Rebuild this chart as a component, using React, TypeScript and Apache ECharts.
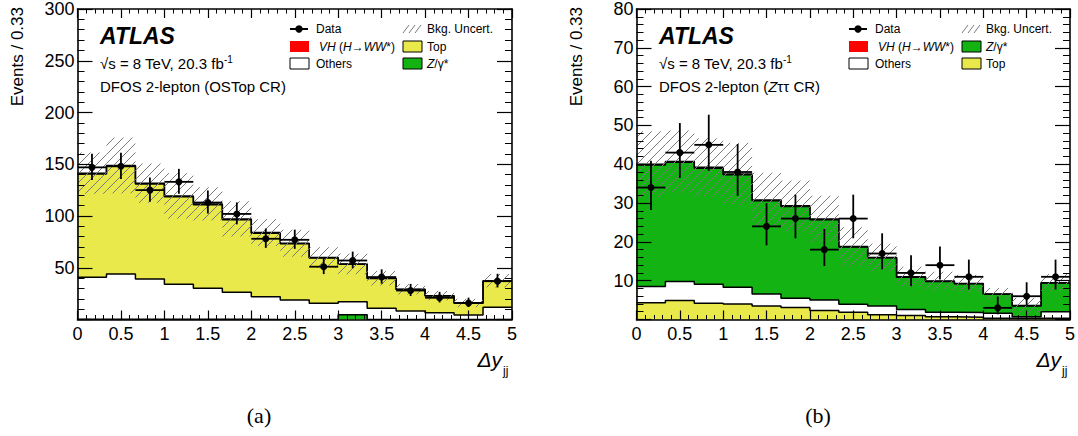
import React, { useEffect, useRef } from "react";
import * as echarts from "echarts";

// bin edges of Δy_jj (15 bins of width 1/3)
const binEdges = [0, 1 / 3, 2 / 3, 1, 4 / 3, 5 / 3, 2, 7 / 3, 8 / 3, 3, 10 / 3, 11 / 3, 4, 13 / 3, 14 / 3, 5];

// (a) DFOS 2-lepton (OSTop CR)  -- stacked from bottom: Z, Others, Top, VH
const aZ = [0.3, 0.3, 0.3, 0.3, 0.3, 0.3, 0, 0, 0, 4.6, 0, 0, 0, 0, 0];
const aOthers = [40.5, 43.7, 38.9, 33.7, 29.9, 26.0, 22.0, 18.9, 15.6, 12.6, 10.8, 8.2, 6.6, 4.4, 11.8];
const aTop = [99.8, 104.0, 91.7, 84.6, 80.7, 70.1, 61.4, 54.3, 43.7, 36.1, 28.7, 20.7, 16.2, 11.4, 25.4];
const aVH = [0.8, 0.8, 0.8, 0.8, 0.8, 0.8, 0.6, 0.5, 0.5, 0.4, 0.3, 0.3, 0.2, 0.2, 0.3];
const aData = [147, 148, 125, 133, 113, 102, 78, 77, 51, 57, 41, 28, 21, 16, 37];
const aUnc = [20, 27, 19, 22, 16, 17, 13, 13, 10, 10, 7, 5, 4.5, 4, 6.5];

// (b) DFOS 2-lepton (Ztautau CR) -- stacked from bottom: Top, Others, Z, VH
const bTop = [4.3, 4.9, 4.2, 4.0, 3.5, 3.1, 2.3, 1.9, 1.2, 1.0, 0.7, 0.6, 0.3, 0.3, 0.3];
const bOthers = [4.2, 4.9, 4.9, 4.3, 3.1, 2.4, 2.7, 2.0, 2.3, 1.6, 1.2, 1.2, 1.3, 0.4, 1.7];
const bZ = [31.3, 30.7, 29.9, 29.0, 24.0, 23.6, 20.7, 14.8, 12.4, 8.3, 7.9, 7.4, 4.9, 2.8, 7.4];
const bVH = [0.2, 0.2, 0.2, 0.2, 0.2, 0.2, 0.2, 0.1, 0.1, 0.1, 0.1, 0.1, 0.1, 0.1, 0.1];
const bData = [34, 43, 45, 38, 24, 26, 18, 26, 17, 12, 14, 11, 3, 6, 11];
const bUnc = [8.5, 8, 7.5, 8, 7, 6.5, 6, 5, 3.5, 2.6, 2.4, 2.2, 1.5, 2, 2.2];

const xTicks = { min: 0, max: 5, interval: 0.5 };
const aY = { min: 0, max: 300, interval: 50 };
const bY = { min: 0, max: 80, interval: 10 };

const SANS = "'Liberation Sans', Arial, Helvetica, sans-serif";
const SERIF = "'Liberation Serif', 'DejaVu Serif', serif";
const YELLOW = "#e9e94b";
const GREEN = "#12b312";
const RED = "#ff0000";
const HATCH = "#7a7a7a";

function stepData(vals: number[]) {
  const pts = vals.map((v, i) => [binEdges[i], v]);
  pts.push([binEdges[vals.length], vals[vals.length - 1]]);
  return pts;
}

function poissonUp(n: number) {
  return Math.sqrt(n + 0.75) + 1;
}
function poissonDn(n: number) {
  return n > 0 ? Math.sqrt(n - 0.25) : 0;
}

function panelSeries(gi: number, stacks: { vals: number[]; color: string }[], data: number[], unc: number[]) {
  const series: any[] = [];
  const cums: number[][] = [];
  let run = stacks[0].vals.map(() => 0);
  stacks.forEach((s) => {
    run = run.map((r, i) => r + s.vals[i]);
    cums.push(run.slice());
  });
  for (let k = stacks.length - 1; k >= 0; k--) {
    series.push({
      type: "line",
      xAxisIndex: 2 * gi,
      yAxisIndex: 2 * gi,
      data: stepData(cums[k]),
      step: "end",
      symbol: "none",
      showSymbol: false,
      silent: true,
      lineStyle: { color: "#000", width: 1.5 },
      areaStyle: { color: stacks[k].color, opacity: 1 },
      z: 2,
    });
  }
  const total = cums[cums.length - 1];
  series.push({
    type: "custom",
    xAxisIndex: 2 * gi,
    yAxisIndex: 2 * gi,
    silent: true,
    z: 3,
    encode: { x: [0, 1], y: 2 },
    data: total.map((t, i) => [binEdges[i], binEdges[i + 1], t, unc[i]]),
    renderItem: (params: any, api: any) => {
      const lo = api.value(0), hi = api.value(1), c = api.value(2), u = api.value(3);
      const p0 = api.coord([lo, c + u]);
      const p1 = api.coord([hi, Math.max(0, c - u)]);
      const x0 = p0[0], y0 = p0[1], x1 = p1[0], y1 = p1[1];
      const s = 9;
      const children: any[] = [];
      const start = Math.ceil((x0 + y0) / s) * s;
      for (let cc = start; cc <= x1 + y1; cc += s) {
        const a = Math.max(x0, cc - y1);
        const b = Math.min(x1, cc - y0);
        if (b > a) {
          children.push({
            type: "line",
            shape: { x1: a, y1: cc - a, x2: b, y2: cc - b },
            style: { stroke: HATCH, lineWidth: 1 },
          });
        }
      }
      return { type: "group", children };
    },
  });
  series.push({
    type: "custom",
    xAxisIndex: 2 * gi,
    yAxisIndex: 2 * gi,
    silent: true,
    z: 4,
    encode: { x: [0, 1], y: 2 },
    data: data.map((n, i) => [binEdges[i], binEdges[i + 1], n]),
    renderItem: (params: any, api: any) => {
      const lo = api.value(0), hi = api.value(1), n = api.value(2);
      const mid = (lo + hi) / 2;
      const pc = api.coord([mid, n]);
      const pl = api.coord([lo, n]);
      const ph = api.coord([hi, n]);
      const pu = api.coord([mid, n + poissonUp(n)]);
      const pd = api.coord([mid, n - poissonDn(n)]);
      const st = { stroke: "#000", lineWidth: 1.8 };
      return {
        type: "group",
        children: [
          { type: "line", shape: { x1: pl[0], y1: pc[1], x2: ph[0], y2: pc[1] }, style: st },
          { type: "line", shape: { x1: pc[0], y1: pu[1], x2: pc[0], y2: pd[1] }, style: st },
          { type: "circle", shape: { cx: pc[0], cy: pc[1], r: 3.5 }, style: { fill: "#000" } },
        ],
      };
    },
  });
  return series;
}

function xAxes(gi: number) {
  const base = {
    type: "value",
    gridIndex: gi,
    z: 10,
    ...xTicks,
    axisLine: { show: true, onZero: false, lineStyle: { color: "#000", width: 1.6 } },
    splitLine: { show: false },
    axisTick: { show: true, inside: true, length: 9, lineStyle: { color: "#000", width: 1.2 } },
    minorTick: { show: true, splitNumber: 5, length: 4.5, lineStyle: { color: "#000", width: 1 } },
    minorSplitLine: { show: false },
  };
  return [
    { ...base, position: "bottom", axisLabel: { show: true, color: "#000", fontSize: 18, fontFamily: SANS, margin: 5 } },
    { ...base, position: "top", axisLabel: { show: false } },
  ];
}

function yAxes(gi: number, cfg: { min: number; max: number; interval: number }) {
  const base = {
    type: "value",
    gridIndex: gi,
    z: 10,
    ...cfg,
    axisLine: { show: true, onZero: false, lineStyle: { color: "#000", width: 1.6 } },
    splitLine: { show: false },
    axisTick: { show: true, inside: true, length: 15, lineStyle: { color: "#000", width: 1.2 } },
    minorTick: { show: true, splitNumber: 5, length: 7, lineStyle: { color: "#000", width: 1 } },
    minorSplitLine: { show: false },
  };
  return [
    {
      ...base,
      position: "left",
      axisLabel: {
        show: true,
        color: "#000",
        fontSize: 18,
        fontFamily: SANS,
        margin: 3,
        formatter: (v: number) => (v === 0 ? "" : String(v)),
      },
    },
    { ...base, position: "right", axisLabel: { show: false } },
  ];
}

function txt(x: number, y: number, text: string, extra: any = {}) {
  return {
    type: "text",
    x,
    y,
    silent: true,
    style: {
      text,
      fill: "#000",
      fontFamily: SANS,
      fontSize: 12,
      align: "left",
      verticalAlign: "middle",
      ...extra,
    },
  };
}

function box(x: number, y: number, fill: string, border: boolean) {
  return {
    type: "rect",
    shape: { x, y, width: 19, height: 11 },
    silent: true,
    style: { fill, stroke: border ? "#000" : fill, lineWidth: border ? 1 : 0 },
  };
}

function hatchIcon(x: number, y: number) {
  const lines: any[] = [];
  for (let k = 0; k < 3; k++) {
    const bx = x + k * 6;
    lines.push({
      type: "line",
      silent: true,
      shape: { x1: bx, y1: y + 8, x2: bx + 6, y2: y },
      style: { stroke: HATCH, lineWidth: 1 },
    });
  }
  return lines;
}

function panelGraphics(dx: number, region: any[], legendRows: { color: string; label: any; border: boolean }[], gi: number) {
  const g: any[] = [];
  // ATLAS label block
  g.push(txt(100 + dx, 36, "ATLAS", { fontSize: 23, fontWeight: "bold", fontStyle: "italic" }));
  g.push(
    txt(100 + dx, 63, "√s = 8 TeV, 20.3 fb{sup|-1}", {
      fontSize: 15,
      rich: { sup: { fontSize: 10, fontFamily: SANS, verticalAlign: "top", lineHeight: 18 } },
      lineHeight: 18,
    })
  );
  g.push(txt(100 + dx, 86, region[0], { fontSize: 15, rich: region[1] }));
  // legend column 1
  g.push({
    type: "line",
    silent: true,
    shape: { x1: 290 + dx, y1: 29, x2: 308 + dx, y2: 29 },
    style: { stroke: "#000", lineWidth: 2 },
  });
  g.push({ type: "circle", silent: true, shape: { cx: 299 + dx, cy: 29, r: 3.7 }, style: { fill: "#000" } });
  g.push(txt(316 + dx, 29, "Data"));
  g.push(box(290 + dx, 41, RED, false));
  g.push(
    txt(319 + dx, 46.5, "{i|VH} ({i|H}→{i|WW}*)", {
      rich: { i: { fontStyle: "italic", fontFamily: SANS, fontSize: 12 } },
    })
  );
  g.push(box(290 + dx, 58, "#fff", true));
  g.push(txt(316 + dx, 63.5, "Others"));
  // legend column 2
  g.push(...hatchIcon(403 + dx, 25));
  g.push(txt(427 + dx, 29, "Bkg. Uncert."));
  legendRows.forEach((r, i) => {
    const yy = i === 0 ? 41 : 58;
    g.push(box(403 + dx, yy, r.color, r.border));
    g.push(txt(427 + dx, yy + 5.5, r.label[0], { rich: r.label[1] }));
  });
  // axis titles
  g.push({
    type: "text",
    x: 17 + dx,
    y: 7,
    rotation: Math.PI / 2,
    silent: true,
    style: { text: "Events / 0.33", fill: "#000", fontFamily: SANS, fontSize: 17, align: "right", verticalAlign: "middle" },
  });
  g.push(txt(502 + dx, 359, "Δy", { fontSize: 21, fontStyle: "italic", align: "right" }));
  g.push(txt(503 + dx, 371, "jj", { fontSize: 12 }));
  g.push(
    txt(259 + dx, 415, gi === 0 ? "(a)" : "(b)", { fontSize: 22, fontFamily: SERIF, align: "center" })
  );
  return g;
}

const italicRich = { i: { fontStyle: "italic", fontFamily: SANS, fontSize: 12 } };
const italicRich15 = { i: { fontStyle: "italic", fontFamily: SANS, fontSize: 15 } };

export default function App() {
  const ref = useRef<HTMLDivElement>(null);
  useEffect(() => {
    if (!ref.current) return;
    const chart = echarts.init(ref.current, undefined, { renderer: "svg" });
    const series = [
      ...panelSeries(
        0,
        [
          { vals: aZ, color: GREEN },
          { vals: aOthers, color: "#ffffff" },
          { vals: aTop, color: YELLOW },
          { vals: aVH, color: RED },
        ],
        aData,
        aUnc
      ),
      ...panelSeries(
        1,
        [
          { vals: bTop, color: YELLOW },
          { vals: bOthers, color: "#ffffff" },
          { vals: bZ, color: GREEN },
          { vals: bVH, color: RED },
        ],
        bData,
        bUnc
      ),
    ];
    const graphic = [
      ...panelGraphics(
        0,
        ["DFOS 2-lepton (OSTop CR)", {}],
        [
          { color: YELLOW, label: ["Top", {}], border: true },
          { color: GREEN, label: ["{i|Z}/γ*", italicRich], border: true },
        ],
        0
      ),
      ...panelGraphics(
        559,
        ["DFOS 2-lepton ({i|Z}ττ CR)", italicRich15],
        [
          { color: GREEN, label: ["{i|Z}/γ*", italicRich], border: true },
          { color: YELLOW, label: ["Top", {}], border: true },
        ],
        1
      ),
    ];
    chart.setOption({
      animation: false,
      backgroundColor: "#ffffff",
      grid: [
        { left: 77.5, top: 9, width: 434.5, height: 310.5 },
        { left: 636.5, top: 9, width: 435, height: 310.5 },
      ],
      xAxis: [...xAxes(0), ...xAxes(1)],
      yAxis: [...yAxes(0, aY), ...yAxes(1, bY)],
      series,
      graphic,
    });
    return () => chart.dispose();
  }, []);
  return (
    <div
      ref={ref}
      style={{ position: "fixed", left: 0, top: 0, width: 1078, height: 436, background: "#fff" }}
    />
  );
}
